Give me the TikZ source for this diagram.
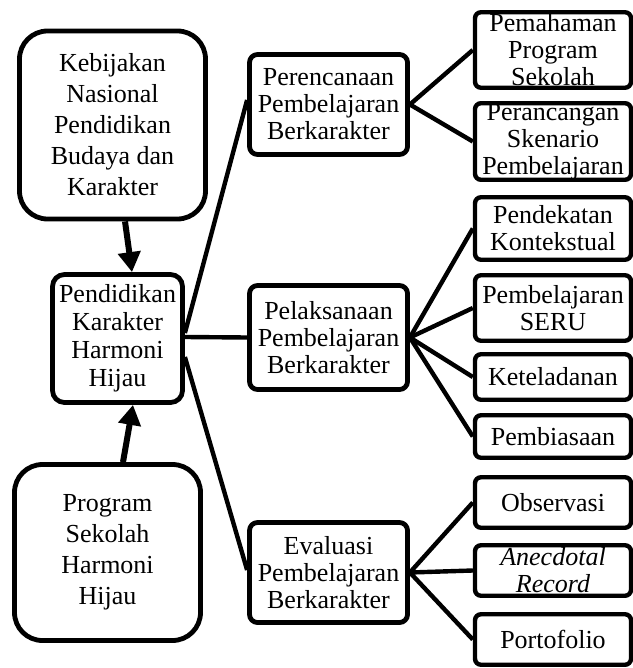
\documentclass[tikz,border=0pt]{standalone}
\usepackage{fontspec}
\setmainfont{Liberation Serif}
\usetikzlibrary{arrows.meta}

\begin{document}
\begin{tikzpicture}[
  x=0.5pt, y=-0.5pt,
  font=\fontsize{13}{13.5}\selectfont,
  box/.style={draw, line width=2.4pt, align=center, inner sep=0pt, fill=white},
  big/.style={box, rounded corners=14pt, minimum width=93pt,
              font=\fontsize{13}{15.5}\selectfont},
  hub/.style={box, rounded corners=6pt, minimum width=65pt, minimum height=64pt,
              font=\fontsize{13}{14}\selectfont},
  midbox/.style={box, rounded corners=4pt, minimum width=79pt, minimum height=50pt},
  leaf/.style={box, line width=2.2pt, rounded corners=3pt, minimum width=78pt},
  ln/.style={line width=2.2pt},
  ar/.style={-{Triangle[length=10pt, width=11pt]}, line width=3pt},
]
\useasboundingbox (0,0) rectangle (632,668);

\node[big, minimum height=94pt] (keb) at (112.5,125)
  {Kebijakan\\Nasional\\Pendidikan\\Budaya dan\\Karakter};
\node[hub] (pkhh) at (117.5,338.5) {Pendidikan\\Karakter\\Harmoni\\Hijau};
\node[big, minimum height=88pt] (pshh) at (107.5,552.5)
  {Program\\Sekolah\\Harmoni\\Hijau};

\node[midbox] (per) at (328.5,104.5) {Perencanaan\\Pembelajaran\\Berkarakter};
\node[midbox, minimum height=52pt] (pel) at (328.5,337.5)
  {Pelaksanaan\\Pembelajaran\\Berkarakter};
\node[midbox] (eva) at (328.5,572.5) {Evaluasi\\Pembelajaran\\Berkarakter};

\node[leaf, minimum height=37.75pt] (pem)  at (553,50)    {Pemahaman\\Program\\Sekolah};
\node[leaf, minimum height=36.25pt] (pers) at (553,141.5) {Perancangan\\Skenario\\Pembelajaran};
\node[leaf, minimum height=31.25pt] (pend) at (553,228.5) {Pendekatan\\Kontekstual};
\node[leaf, minimum height=32.75pt] (seru) at (553,308)   {Pembelajaran\\SERU};
\node[leaf, minimum height=22.75pt] (ket)  at (553,377)   {Keteladanan};
\node[leaf, minimum height=21.25pt] (pbi)  at (553,436.5) {Pembiasaan};
\node[leaf, minimum height=25.25pt] (obs)  at (553,502.5) {Observasi};
\node[leaf, minimum height=25.25pt] (ane)  at (553,570.5) {\textit{Anecdotal}\\\textit{Record}};
\node[leaf, minimum height=25.25pt] (port) at (553,639.5) {Portofolio};

\draw[ar] ([xshift=6.25pt]keb.south)  -- ([xshift=7.25pt]pkhh.north);
\draw[ar] ([xshift=7.75pt]pshh.north) -- ([xshift=7.75pt]pkhh.south);

\draw[ln] ([yshift=2.75pt]pkhh.east) -- ([yshift=2.25pt]per.west);
\draw[ln] ([yshift=0.75pt]pkhh.east) -- (pel.west);
\draw[ln] ([yshift=-9.25pt]pkhh.east) -- ([yshift=1.25pt]eva.west);

\draw[ln] (per.east) -- (pem.west);
\draw[ln] (per.east) -- (pers.west);
\draw[ln] (pel.east) -- (pend.west);
\draw[ln] (pel.east) -- (seru.west);
\draw[ln] (pel.east) -- (ket.west);
\draw[ln] (pel.east) -- (pbi.west);
\draw[ln] (eva.east) -- (obs.west);
\draw[ln] (eva.east) -- (ane.west);
\draw[ln] (eva.east) -- (port.west);
\end{tikzpicture}
\end{document}
